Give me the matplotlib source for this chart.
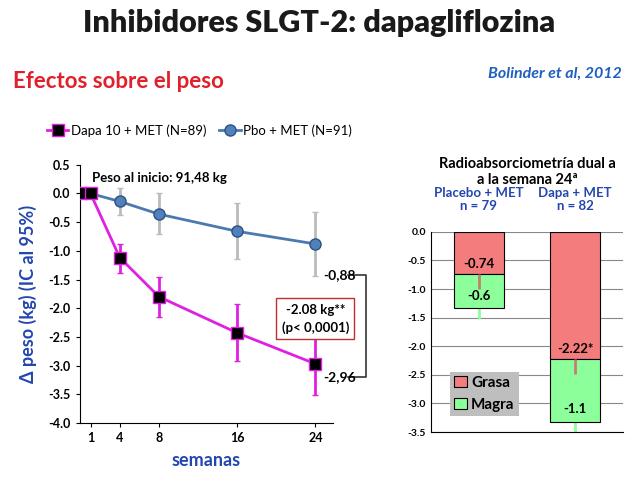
import matplotlib
matplotlib.use("Agg")
import matplotlib.pyplot as plt

FONT = "Lato"
plt.rcParams["font.family"] = FONT

weeks = [0, 1, 4, 8, 16, 24]
dapa = [0, 0, -1.12, -1.80, -2.43, -2.97]
dapa_lo = [0, 0, -1.38, -2.15, -2.92, -3.52]
dapa_hi = [0, 0, -0.88, -1.45, -1.93, -2.42]
pbo = [0, 0, -0.14, -0.36, -0.66, -0.88]
pbo_lo = [0, 0, -0.38, -0.70, -1.15, -1.44]
pbo_hi = [0, 0, 0.10, 0.00, -0.16, -0.33]

groups = ["Placebo + MET\nn = 79", "Dapa + MET\nn = 82"]
grasa = [-0.74, -2.22]
magra = [-0.6, -1.1]
grasa_err = [0.26, 0.26]
magra_err = [0.18, 0.23]
grasa_lbl = ["-0.74", "-2.22*"]
magra_lbl = ["-0.6", "-1.1"]

BLUE = "#2346B0"
fig = plt.figure(figsize=(6.38, 4.79), dpi=100)

fig.text(0.5, 0.952, "Inhibidores SLGT-2: dapagliflozina", ha="center", va="center",
         fontsize=22, fontweight="heavy", color="#1a1a1a")
fig.text(0.02, 0.83, "Efectos sobre el peso", ha="left", va="center",
         fontsize=16, fontweight="bold", color="#E0202A")
fig.text(0.975, 0.845, "Bolinder et al, 2012", ha="right", va="center",
         fontsize=11.5, fontweight="bold", style="italic", color="#1F5FC0")

# left chart
ax = fig.add_axes([0.125, 0.117, 0.397, 0.539])
ax.errorbar(weeks, pbo, yerr=[[p - l for p, l in zip(pbo, pbo_lo)], [h - p for p, h in zip(pbo, pbo_hi)]],
            fmt="none", ecolor="#BBBBBB", elinewidth=2, capsize=2, zorder=1)
ax.errorbar(weeks, dapa, yerr=[[p - l for p, l in zip(dapa, dapa_lo)], [h - p for p, h in zip(dapa, dapa_hi)]],
            fmt="none", ecolor="#E020E0", elinewidth=2, capsize=2, zorder=1)
ax.plot(weeks, pbo, "-o", color="#4A7AB0", mfc="#4F81BD", mec="#2F5080", ms=8, lw=2,
        label="Pbo + MET (N=91)", zorder=3)
ax.plot(weeks, dapa, "-s", color="#E020E0", mfc="black", mec="#E020E0", ms=8, lw=2,
        label="Dapa 10 + MET (N=89)", zorder=3)
ax.set_xlim(-0.1, 25.8)
ax.set_ylim(-4.0, 0.5)
ax.set_xticks([1, 4, 8, 16, 24])
ax.set_yticks([0.5, 0, -0.5, -1, -1.5, -2, -2.5, -3, -3.5, -4])
ax.set_yticklabels([f"{v:.1f}" for v in ax.get_yticks()])
ax.tick_params(labelsize=9, length=3)
for lbl in ax.get_xticklabels() + ax.get_yticklabels():
    lbl.set_fontweight("bold")
for s in ["top", "right"]:
    ax.spines[s].set_visible(False)
ax.text(1.2, 0.27, "Peso al inicio: 91,48 kg", fontsize=9.5, fontweight="bold", va="center")
ax.text(24.8, -1.42, "-0,88", fontsize=10, fontweight="bold", va="center", clip_on=False)
ax.text(24.8, -3.2, "-2,96", fontsize=10, fontweight="bold", va="center", clip_on=False)
ax.plot([27.3, 29.2, 29.2, 27.3], [-1.42, -1.42, -3.2, -3.2], color="#333333", lw=1.2, clip_on=False)
ax.text(24.0, -2.18, "-2.08 kg**\n(p< 0,0001)", fontsize=9.5, fontweight="bold", ha="center",
        va="center", linespacing=1.5,
        bbox=dict(boxstyle="square,pad=0.4", fc="white", ec="#C03030", lw=1))
ax.set_ylabel("Δ peso (kg) (IC al 95%)", fontsize=13, fontweight="bold", color=BLUE, labelpad=8)
ax.set_xlabel("semanas", fontsize=13, fontweight="bold", color=BLUE, labelpad=6)
h, l = ax.get_legend_handles_labels()
fig.legend(h[::-1], l[::-1], loc="center left", bbox_to_anchor=(0.055, 0.728), ncol=2, frameon=False,
           fontsize=9.5, handlelength=1.6, handletextpad=0.2, columnspacing=1.0)

# right chart
bx = fig.add_axes([0.675, 0.098, 0.302, 0.418])
xs = [0, 1]
bx.bar(xs, grasa, width=0.52, color="#F47C7C", edgecolor="black", lw=0.8, label="Grasa", zorder=2)
bx.bar(xs, magra, width=0.52, bottom=grasa, color="#8CFF9A", edgecolor="black", lw=0.8,
       label="Magra", zorder=2)
bx.errorbar(xs, grasa, yerr=[grasa_err, [0, 0]], fmt="none", ecolor="#C08070", elinewidth=2, zorder=3)
tot = [g + m for g, m in zip(grasa, magra)]
bx.errorbar(xs, tot, yerr=[magra_err, [0, 0]], fmt="none", ecolor="#8CFF9A", elinewidth=2, zorder=1)
for x, g, m, gl, ml in zip(xs, grasa, magra, grasa_lbl, magra_lbl):
    bx.text(x, g + 0.18, gl, ha="center", va="center", fontsize=9.5, fontweight="bold", zorder=4)
    bx.text(x, g + m + 0.22, ml, ha="center", va="center", fontsize=9.5, fontweight="bold", zorder=4)
bx.set_xlim(-0.5, 1.5)
bx.set_ylim(-3.5, 0)
bx.set_yticks([0, -0.5, -1, -1.5, -2, -2.5, -3, -3.5])
bx.set_yticklabels([f"{v:.1f}" for v in bx.get_yticks()])
bx.yaxis.grid(True, color="#888888", lw=0.8, zorder=0)
bx.set_axisbelow(True)
bx.set_xticks([])
bx.tick_params(labelsize=7.5, length=0)
for lbl in bx.get_yticklabels():
    lbl.set_fontweight("bold")
for s in ["top", "right"]:
    bx.spines[s].set_visible(False)
for x, g in zip(xs, groups):
    bx.text(x, 0.35, g, ha="center", va="bottom", fontsize=9.5, fontweight="bold",
            color=BLUE, clip_on=False, linespacing=1.1)
bx.text(0.5, 1.3, "Radioabsorciometría dual a\na la semana 24ª", transform=bx.transAxes, ha="center",
        va="center", fontsize=10.5, fontweight="bold")
leg = bx.legend(loc="lower left", bbox_to_anchor=(0.06, 0.04), fontsize=11, frameon=True,
                fancybox=False, handlelength=0.8, handletextpad=0.3, borderpad=0.3)
leg.get_frame().set_facecolor("#BEBEBE")
leg.get_frame().set_edgecolor("none")
leg.get_frame().set_alpha(1)
for t in leg.get_texts():
    t.set_fontweight("bold")

fig.savefig("out.png", dpi=100)
